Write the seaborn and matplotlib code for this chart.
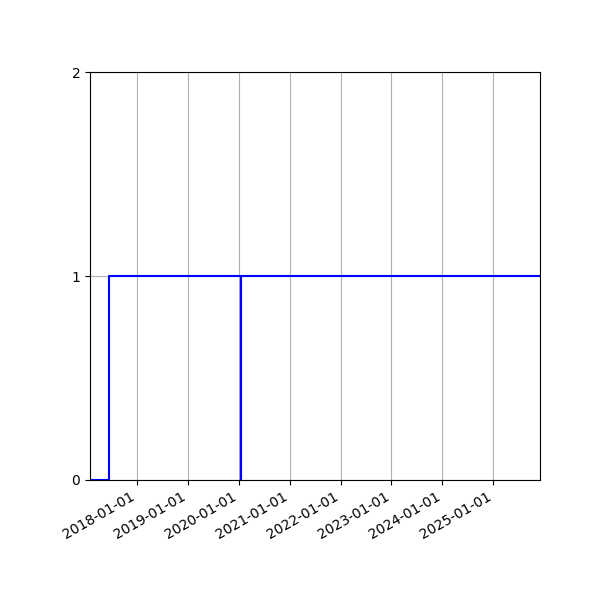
import pandas as pd
import matplotlib
matplotlib.use('Agg')
import matplotlib.pyplot as plt
import matplotlib.dates as mdates
import seaborn as sns

# step data
dates = ['2017-01-28', '2017-06-12', '2020-01-18', '2020-01-20', '2025-12-02']
values = [0, 1, 0, 1, 1]

df = pd.DataFrame({'date': pd.to_datetime(dates), 'value': values})

fig, ax = plt.subplots(figsize=(6, 6), dpi=100)
sns.lineplot(data=df, x='date', y='value', drawstyle='steps-post', color='blue', linewidth=1.5, ax=ax)

ax.set_xlim(df['date'].min(), df['date'].max())
ax.set_ylim(0, 2)
ax.set_yticks([0, 1, 2])
ax.xaxis.set_major_locator(mdates.YearLocator())
ax.xaxis.set_major_formatter(mdates.DateFormatter('%Y-%m-%d'))
ax.grid(True)
ax.set_xlabel('')
ax.set_ylabel('')

fig.autofmt_xdate()
fig.subplots_adjust(left=0.15, right=0.9, top=0.88, bottom=0.2)
plt.savefig('out.png', dpi=100)
